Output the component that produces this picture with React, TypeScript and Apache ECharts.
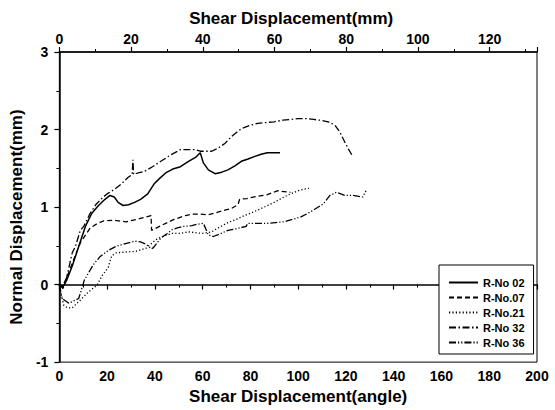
import React, { useEffect, useRef } from "react";
import * as echarts from "echarts";

// Tick labels / axis config values
const xTicksAngle = [0, 20, 40, 60, 80, 100, 120, 140, 160, 180, 200];
const xTicksMm = [0, 20, 40, 60, 80, 100, 120];
const yTicks = [-1, 0, 1, 2, 3];
const mmAxisMax = 133.2; // mm corresponding to 200 angle

const seriesNames = ["R-No 02", "R-No.07", "R-No.21", "R-No 32", "R-No 36"];

// R-No 02 (solid)
const r02X = [0, 1.5, 3, 5.4, 8.1, 10.9, 13.6, 16.4, 19.1, 21.2, 23, 24.6, 26.7, 29, 31.5, 34, 37, 39.7, 42, 44.5, 47.5, 50.7, 54.1, 57, 59, 60.3, 62.4, 65.2, 68, 70.6, 73.5, 76.2, 79, 81.6, 84.5, 87.1, 92.4];
const r02Y = [0, -0.03, 0.05, 0.24, 0.49, 0.75, 0.92, 1.02, 1.1, 1.15, 1.13, 1.06, 1.02, 1.03, 1.06, 1.1, 1.17, 1.3, 1.37, 1.44, 1.49, 1.52, 1.59, 1.64, 1.7, 1.57, 1.48, 1.43, 1.45, 1.48, 1.53, 1.59, 1.62, 1.65, 1.68, 1.7, 1.7];

// R-No.07 (dashed)
const r07X = [0, 1.2, 3.5, 6.1, 8.8, 12.9, 15.5, 18.4, 22.6, 28, 33.5, 38.4, 38.6, 43.2, 48, 52.8, 55.5, 59, 62.4, 66, 69.3, 72, 74.8, 75.5, 78.5, 81.6, 87.1, 91.3, 96.8];
const r07Y = [0, -0.03, 0.12, 0.33, 0.54, 0.73, 0.78, 0.82, 0.83, 0.81, 0.85, 0.89, 0.7, 0.77, 0.84, 0.89, 0.91, 0.91, 0.9, 0.93, 0.96, 0.98, 1.03, 1.1, 1.11, 1.13, 1.16, 1.21, 1.19];

// R-No.21 (dotted)
const r21X = [0, 0.5, 1.9, 3.5, 5.4, 8.8, 12, 15.7, 18, 20.5, 21.2, 21.9, 23.9, 28, 32.2, 36.3, 40.4, 44, 47.3, 50.7, 54.1, 57, 59.7, 63.8, 67, 70.6, 74, 77.5, 80, 83, 86.5, 89.9, 93.5, 96.8, 100, 103.6, 104.5];
const r21Y = [0, -0.1, -0.27, -0.3, -0.3, -0.2, -0.1, -0.01, 0.12, 0.22, 0.3, 0.37, 0.41, 0.42, 0.43, 0.47, 0.58, 0.63, 0.66, 0.66, 0.68, 0.67, 0.66, 0.68, 0.74, 0.8, 0.84, 0.89, 0.92, 0.96, 1.01, 1.06, 1.12, 1.17, 1.21, 1.24, 1.24];

// R-No 32 (dash-dot)
const r32X = [0, 1.5, 2.6, 5.4, 6.7, 8.8, 10.2, 12.9, 15.5, 18.4, 20.5, 23.2, 26, 28.7, 30.5, 30.8, 31.1, 33, 35.6, 39, 42.5, 46.5, 50.7, 54.1, 57, 59, 61.5, 63.8, 66.5, 69.3, 72.5, 76.2, 79.5, 83, 86.5, 89.9, 93.5, 96.8, 100, 103.6, 106.5, 109.1, 112.5, 115.3, 117.4, 119.5, 121, 122.9];
const r32Y = [0, -0.05, 0.03, 0.41, 0.49, 0.7, 0.75, 0.92, 1.04, 1.13, 1.18, 1.23, 1.3, 1.38, 1.42, 1.61, 1.42, 1.44, 1.46, 1.52, 1.59, 1.67, 1.74, 1.74, 1.74, 1.72, 1.72, 1.72, 1.76, 1.82, 1.92, 2.01, 2.05, 2.08, 2.09, 2.1, 2.12, 2.13, 2.14, 2.14, 2.13, 2.12, 2.1, 2.06, 1.97, 1.84, 1.75, 1.65];

// R-No 36 (dash-dot-dot)
const r36X = [0, 1.2, 4, 8.1, 10.5, 14.3, 17, 20.5, 23.5, 26.7, 31.5, 34, 36.3, 38.6, 39.5, 42.5, 45.2, 47.3, 49.4, 52, 55.5, 58, 60.3, 62.4, 64.5, 67, 70.6, 74, 78.2, 78.9, 83, 87.1, 90.5, 94, 97.5, 100.9, 103.5, 106.4, 110.5, 113.3, 116, 119.5, 122.9, 127, 128.4];
const r36Y = [0, -0.18, -0.24, -0.18, 0.06, 0.26, 0.36, 0.44, 0.49, 0.52, 0.56, 0.55, 0.52, 0.46, 0.48, 0.6, 0.66, 0.71, 0.73, 0.75, 0.76, 0.78, 0.79, 0.64, 0.62, 0.65, 0.7, 0.72, 0.75, 0.79, 0.79, 0.79, 0.8, 0.81, 0.84, 0.87, 0.91, 0.96, 1.04, 1.15, 1.19, 1.15, 1.15, 1.13, 1.21];

const xs = [r02X, r07X, r21X, r32X, r36X];
const ys = [r02Y, r07Y, r21Y, r32Y, r36Y];
const dashTypes: any[] = ["solid", [5, 3], [1.2, 2.2], [7, 2.5, 1.5, 2.5], [7, 2, 1.2, 2, 1.2, 2]];
const widths = [1.5, 1.3, 1.3, 1.3, 1.3];

const tickFont = "'Liberation Sans Narrow', 'Liberation Sans', Arial, sans-serif";
const titleFont = "'Liberation Sans', Arial, sans-serif";

export default function App() {
  const ref = useRef<HTMLDivElement>(null);
  useEffect(() => {
    if (!ref.current) return;
    const chart = echarts.init(ref.current, null, { renderer: "svg" });
    const labelStyle = {
      color: "#000",
      fontSize: 14,
      fontWeight: "bold" as const,
      fontFamily: tickFont,
    };
    const nameStyle = {
      color: "#000",
      fontSize: 17,
      fontWeight: "bold" as const,
      fontFamily: titleFont,
    };
    const axisLine = { show: true, lineStyle: { color: "#000", width: 1.5 } };
    const axisTick = { show: true, inside: false, length: 5, lineStyle: { color: "#000", width: 1.2 } };
    const minorTick = { show: true, splitNumber: 2, length: 3, lineStyle: { color: "#000", width: 1 } };

    const option: any = {
      animation: false,
      backgroundColor: "#fff",
      grid: {
        left: 52,
        right: 18,
        top: 52,
        bottom: 42,
        show: true,
        borderColor: "#000",
        borderWidth: 1,
        backgroundColor: "transparent",
      },
      legend: {
        orient: "vertical",
        left: 439,
        top: 265,
        padding: [12, 9, 6, 9],
        itemWidth: 29,
        itemHeight: 12,
        itemGap: 4,
        borderColor: "#000",
        borderWidth: 1,
        borderRadius: 0,
        backgroundColor: "#fff",
        align: "left",
        data: seriesNames,
        itemStyle: { opacity: 0, borderWidth: 0 },
        textStyle: {
          color: "#000",
          fontSize: 11,
          fontWeight: "bold",
          fontFamily: titleFont,
        },
      },
      xAxis: [
        {
          type: "value",
          position: "bottom",
          min: xTicksAngle[0],
          max: xTicksAngle[xTicksAngle.length - 1],
          interval: xTicksAngle[1] - xTicksAngle[0],
          name: "Shear Displacement(angle)",
          nameLocation: "middle",
          nameGap: 19,
          nameTextStyle: nameStyle,
          axisLine,
          axisTick,
          minorTick,
          splitLine: { show: false },
          axisLabel: { ...labelStyle, margin: 7 },
        },
        {
          type: "value",
          position: "top",
          min: xTicksMm[0],
          max: mmAxisMax,
          interval: xTicksMm[1] - xTicksMm[0],
          name: "Shear Displacement(mm)",
          nameLocation: "middle",
          nameGap: 21,
          nameTextStyle: { ...nameStyle, padding: [0, 14, 0, 0] },
          axisLine,
          axisTick,
          minorTick,
          splitLine: { show: false },
          axisLabel: {
            ...labelStyle,
            margin: 6,
            showMaxLabel: false,
            formatter: (v: number) => (xTicksMm.includes(Math.round(v * 1000) / 1000) ? String(v) : ""),
          },
        },
      ],
      yAxis: {
        type: "value",
        min: yTicks[0],
        max: yTicks[yTicks.length - 1],
        interval: 1,
        name: "Normal Displacement(mm)",
        nameLocation: "middle",
        nameGap: 14,
        nameTextStyle: { ...nameStyle, padding: [0, 20, 0, 0] },
        axisLine,
        axisTick,
        minorTick,
        splitLine: { show: false },
        axisLabel: { ...labelStyle, margin: 11 },
      },
      series: seriesNames.map((name, i) => ({
        name,
        type: "line",
        xAxisIndex: 0,
        yAxisIndex: 0,
        symbol: "none",
        showSymbol: false,
        smooth: false,
        data: xs[i].map((x, j) => [x, ys[i][j]]),
        lineStyle: { color: "#000", width: widths[i], type: dashTypes[i] },
        itemStyle: { color: "#000" },
        emphasis: { disabled: true },
      })),
    };
    chart.setOption(option);
    return () => chart.dispose();
  }, []);
  return (
    <div
      ref={ref}
      style={{ position: "fixed", left: 0, top: 0, width: 555, height: 410, background: "#fff" }}
    />
  );
}
